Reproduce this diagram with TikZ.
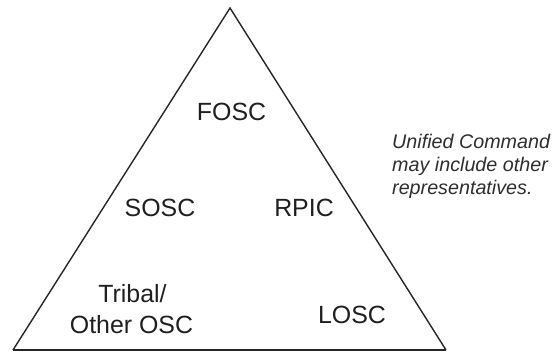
\documentclass[tikz,border=0pt]{standalone}
\usepackage{fontspec}
\setmainfont{Liberation Sans}
\begin{document}
\begin{tikzpicture}[x=1bp,y=-1bp,
  lbl/.style={inner sep=0pt, anchor=base, font=\fontsize{25}{30}\selectfont, text=black!88},
  note/.style={inner sep=0pt, anchor=base west, font=\fontsize{19.8}{23}\selectfont\itshape, text=black!82},
  side/.style={line width=1.4bp, draw=black!85, line join=miter}]
\useasboundingbox (0,0) rectangle (554,353);
\coordinate (apex) at (230,8);
\coordinate (bl) at (13,350);
\coordinate (br) at (446,350);
\draw[side] (bl) -- (apex) -- (br);
\draw[line width=2bp, draw=black!85] (bl) -- (br);
\node[lbl] (fosc) at (231.5,120) {FOSC};
\node[lbl] (sosc) at (160,216) {SOSC};
\node[lbl] (rpic) at (304,216) {RPIC};
\node[lbl] (tribal) at (132.5,302) {Tribal/};
\node[lbl] (other) at (131.5,333) {Other OSC};
\node[lbl] (losc) at (352,323) {LOSC};
\node[note] (n1) at (392,148) {Unified Command};
\node[note] (n2) at (392,171) {may include other};
\node[note] (n3) at (392,194) {representatives.};
\end{tikzpicture}
\end{document}
